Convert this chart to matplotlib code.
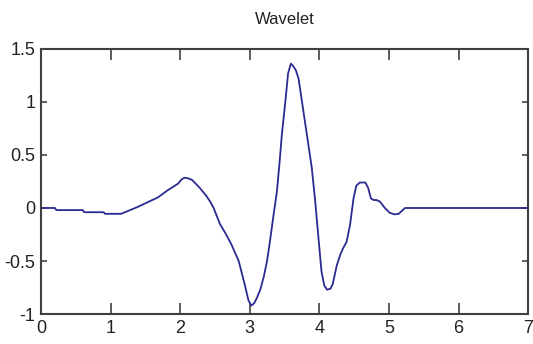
import matplotlib
matplotlib.use("Agg")
import matplotlib.pyplot as plt
from matplotlib.ticker import FormatStrFormatter

# sampled wavelet trace
t = [0.0, 0.2, 0.22, 0.6, 0.62, 0.9, 0.92, 1.15, 1.25, 1.39, 1.54, 1.68,
     1.82, 1.97, 2.02, 2.06, 2.11, 2.17, 2.28, 2.38, 2.43, 2.48, 2.57, 2.66,
     2.74, 2.84, 2.93, 2.98, 3.02, 3.06, 3.10, 3.15, 3.20, 3.25, 3.29, 3.34,
     3.39, 3.43, 3.46, 3.51, 3.55, 3.59, 3.62, 3.66, 3.70, 3.75, 3.82, 3.89,
     3.94, 3.99, 4.03, 4.07, 4.11, 4.16, 4.19, 4.25, 4.30, 4.34, 4.39, 4.44,
     4.49, 4.53, 4.58, 4.66, 4.70, 4.74, 4.78, 4.82, 4.87, 4.94, 5.01, 5.08,
     5.14, 5.18, 5.23, 7.0]
amp = [0.0, 0.0, -0.02, -0.02, -0.04, -0.04, -0.055, -0.055, -0.028, 0.01,
       0.057, 0.10, 0.167, 0.23, 0.27, 0.285, 0.28, 0.265, 0.19, 0.11, 0.06,
       0.0, -0.15, -0.25, -0.35, -0.50, -0.73, -0.87, -0.92, -0.90, -0.85,
       -0.77, -0.65, -0.49, -0.31, -0.07, 0.16, 0.45, 0.69, 1.0, 1.27, 1.36,
       1.34, 1.30, 1.22, 1.0, 0.69, 0.38, 0.06, -0.31, -0.60, -0.73, -0.77,
       -0.76, -0.72, -0.54, -0.44, -0.38, -0.32, -0.16, 0.09, 0.21, 0.24,
       0.24, 0.19, 0.09, 0.075, 0.075, 0.06, 0.0, -0.045, -0.06, -0.055,
       -0.03, 0.0, 0.0]

xticks = [0, 1, 2, 3, 4, 5, 6, 7]
yticks = [-1, -0.5, 0, 0.5, 1, 1.5]

FONT = ["Liberation Sans Narrow", "Liberation Sans", "DejaVu Sans"]
AXIS_GREY = "#404040"

fig = plt.figure(figsize=(5.33, 3.44), dpi=100)
ax = fig.add_axes([0.077, 0.087, 0.914, 0.771])

ax.plot(t, amp, color="#2a2a90", linewidth=1.3)

ax.set_xlim(0, 7)
ax.set_ylim(-1, 1.5)
ax.set_xticks(xticks)
ax.set_yticks(yticks)
ax.yaxis.set_major_formatter(FormatStrFormatter("%g"))

for s in ax.spines.values():
    s.set_color(AXIS_GREY)
    s.set_linewidth(1.5)

ax.tick_params(axis="x", direction="in", length=8, width=1.2,
               color=AXIS_GREY, top=True, pad=4)
ax.tick_params(axis="y", direction="in", length=4, width=1.2,
               color=AXIS_GREY, right=True, pad=4)
for lab in ax.get_xticklabels() + ax.get_yticklabels():
    lab.set_family(FONT)
    lab.set_fontsize(13)
    lab.set_color("#222222")

ax.set_title("Wavelet", family=FONT, fontsize=12, color="#222222", pad=18)

fig.savefig("out.png", dpi=100, facecolor="white")
